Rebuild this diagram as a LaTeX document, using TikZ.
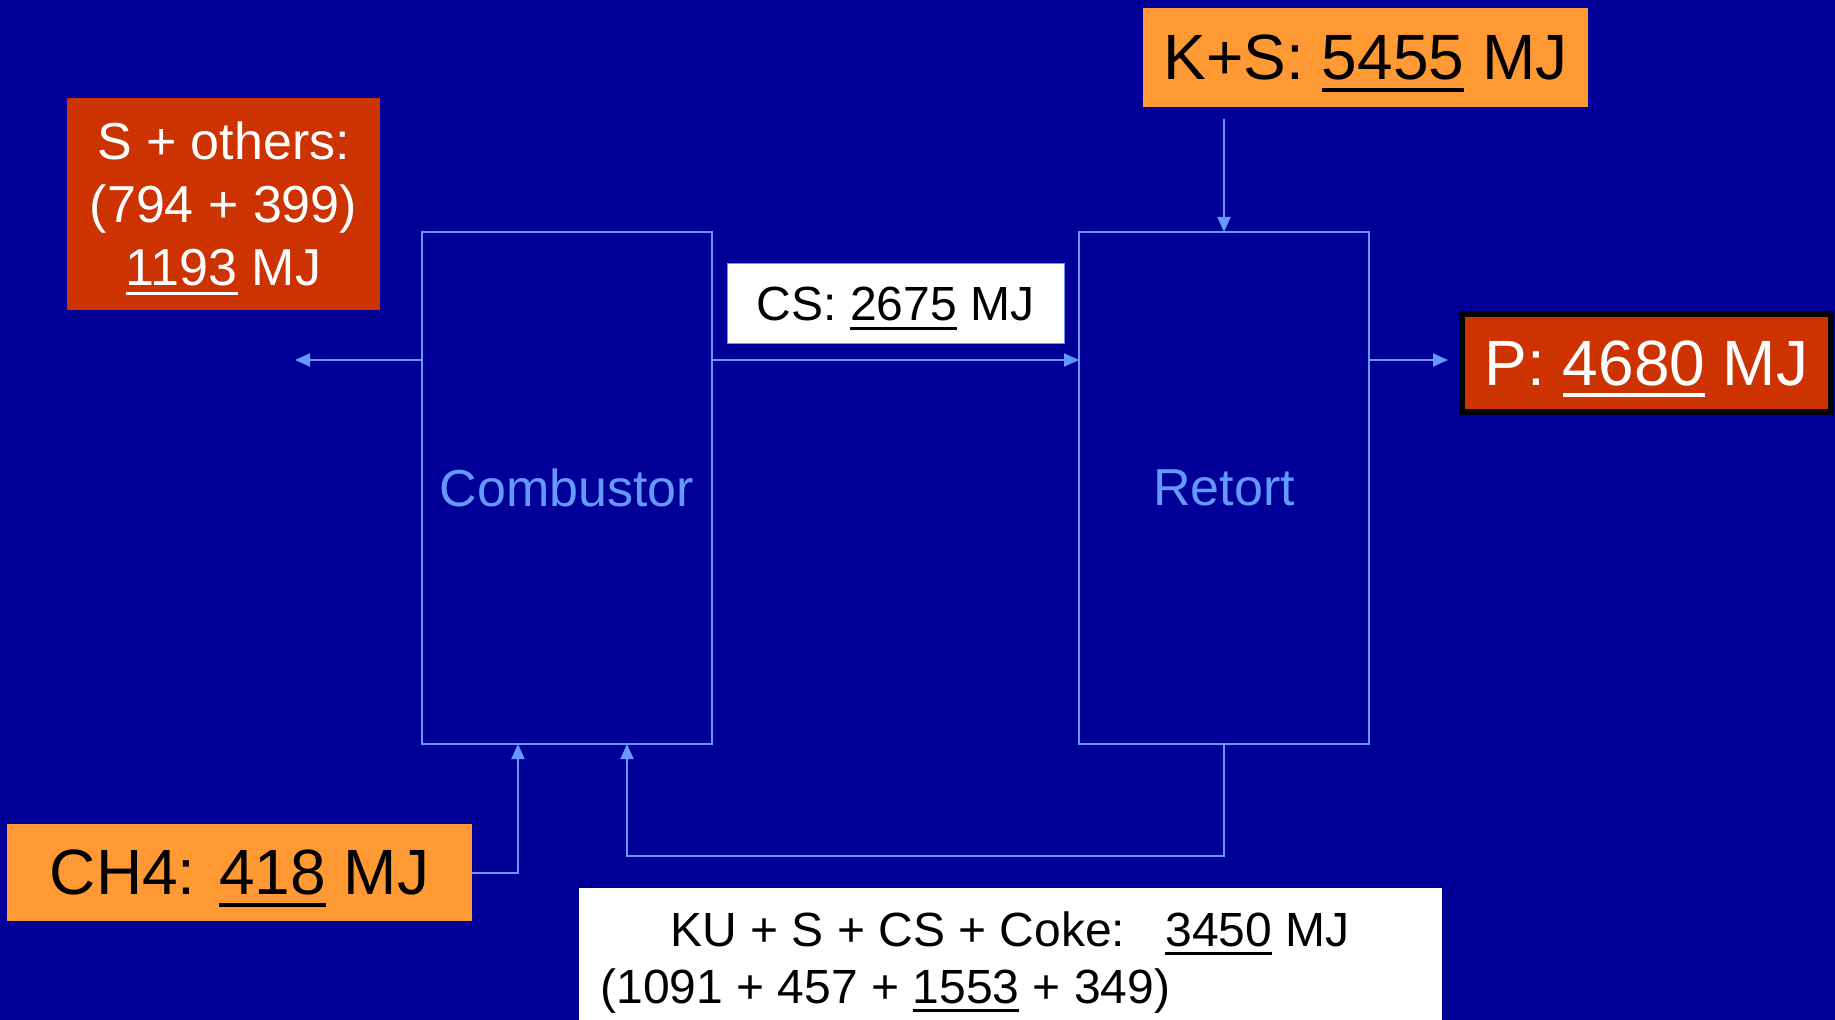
\documentclass[tikz,border=0pt]{standalone}
\usepackage{fontspec}
\setmainfont{Liberation Sans}
\usepackage{xcolor}
\usetikzlibrary{positioning,arrows.meta,calc}

\definecolor{bgblue}{RGB}{0,0,153}
\definecolor{lineblue}{RGB}{102,153,255}
\definecolor{orangebox}{RGB}{255,153,51}
\definecolor{redbox}{RGB}{204,51,0}

% underlined number, line kept out of the box depth
\newbox\unumbox
\newcommand\unum[1]{\setbox\unumbox\hbox{#1}\smash{\rlap{\rule[-0.19em]{\wd\unumbox}{0.065em}}}\box\unumbox}

\begin{document}
\begin{tikzpicture}[
      x=0.5pt, y=-0.5pt,
      largetxt/.style={font=\fontsize{32}{38}\selectfont},
      midtxt/.style={font=\fontsize{26}{31.5}\selectfont},
      smalltxt/.style={font=\fontsize{24}{29}\selectfont},
      unit/.style={draw=lineblue, line width=1pt, outer sep=0pt, inner sep=0pt,
        minimum width=145pt, minimum height=256pt, text=lineblue, midtxt},
      tag/.style={inner sep=0pt, outer sep=0pt, align=center},
      arr/.style={draw=lineblue, line width=1pt, -{Triangle[length=7.5pt,width=6.5pt]}}
    ]
    \useasboundingbox (0,0) rectangle (1835,1020);
    \fill[bgblue] (0,0) rectangle (1835,1020);
    % process units
    \node[unit] (comb) at (567,488) {Combustor};
    \node[unit, right=183.5pt of comb] (ret) {Retort};
    % streams
    \node[tag, fill=redbox, text=white, midtxt, minimum width=156.5pt, minimum height=106pt] (others) at (223.5,204) {S + others:\\(794 + 399)\\\unum{1193} MJ};
    \node[tag, fill=orangebox, largetxt, minimum width=222.5pt, minimum height=49.5pt] (ks) at (1365.5,57.5) {K+S: \unum{5455} MJ};
    \node[tag, fill=white, draw=lineblue, line width=0.5pt, smalltxt, minimum width=168.5pt, minimum height=40pt] (cs) at (895.5,304) {CS: \unum{2675} MJ};
    \node[tag, fill=redbox, draw=black, line width=3pt, text=white, largetxt, minimum width=184.5pt, minimum height=49pt] (prod) at (1646.5,363) {P: \unum{4680} MJ};
    \node[tag, fill=orangebox, largetxt, minimum width=232.5pt, minimum height=48.5pt] (ch4) at (239.5,872.5) {CH4: \unum{418} MJ};
    \node[tag, fill=white, minimum width=431.5pt, minimum height=66pt] (ku) at (1010.5,954) {};
    \node[smalltxt, anchor=base, inner sep=0pt] (kutop) at (1010,946) {KU + S + CS + Coke:\ \ \ \unum{3450} MJ};
    \node[smalltxt, anchor=base west, inner sep=0pt] (kubot) at (600,1003) {(1091 + 457 + \unum{1553} + 349)};
    % free ends
    \coordinate (leftout) at (295,360);
    \coordinate (kstap) at (1223,119);
    \coordinate (pin) at (1448,360);
    % edges
    \draw[arr] (comb.west |- leftout) -- (leftout);
    \draw[arr] (comb.east |- pin) -- (ret.west |- pin);
    \draw[arr] (ret.east |- pin) -- (pin);
    \draw[arr] (ret.north |- kstap) -- (ret.north);
    \draw[arr] (ch4.east) -| ([xshift=-24.5pt]comb.south);
    \draw[arr] (ret.south) -- ++(0,112) -| ([xshift=30pt]comb.south);
  \end{tikzpicture}
\end{document}
